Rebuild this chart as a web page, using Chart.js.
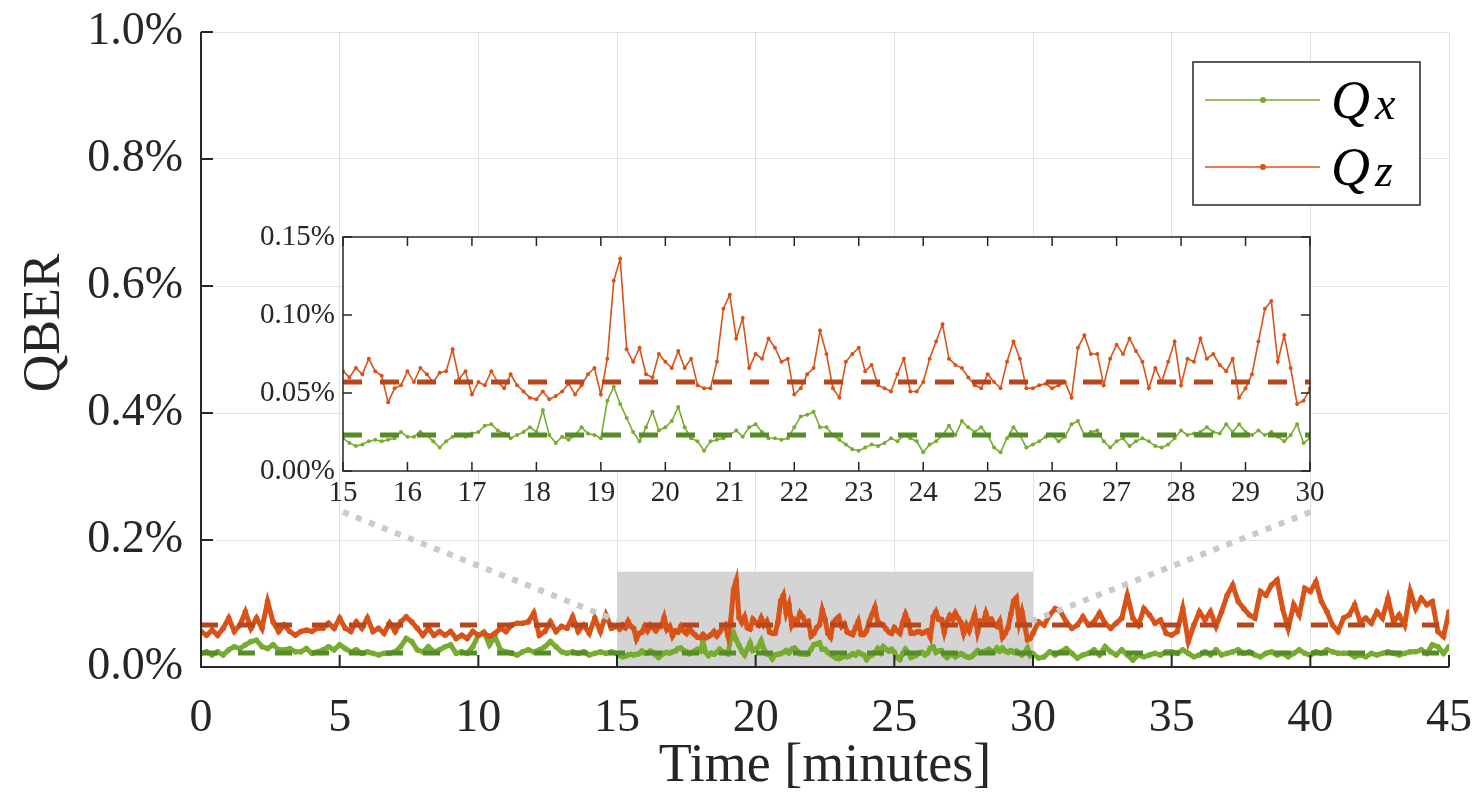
<!DOCTYPE html>
<html>
<head>
<meta charset="utf-8">
<title>QBER</title>
<script src="https://cdn.jsdelivr.net/npm/chart.js@4.4.1/dist/chart.umd.min.js"></script>
<style>
  body { margin: 0; background: #fff; }
  #wrap { position: relative; width: 1472px; height: 799px; }
  #mainChart { position: absolute; left: 0; top: 0; }
  #insetChart { position: absolute; left: 240px; top: 215px; }
</style>
</head>
<body>
<div id="wrap">
  <canvas id="mainChart" width="1472" height="799"></canvas>
  <canvas id="insetChart" width="1100" height="310"></canvas>
</div>
<script>
// --- Data (QBER in %) ---

// 0 .. 14.8 min, every 0.2 min
const qzFirst = [
  0.056, 0.050, 0.058, 0.050, 0.061, 0.077, 0.056, 0.066, 0.087, 0.061,
  0.077, 0.061, 0.103, 0.071, 0.056, 0.066, 0.056, 0.050, 0.056, 0.058,
  0.056, 0.061, 0.061, 0.069, 0.061, 0.077, 0.061, 0.056, 0.071, 0.061,
  0.077, 0.056, 0.061, 0.053, 0.069, 0.056, 0.071, 0.079, 0.071, 0.061,
  0.050, 0.061, 0.050, 0.056, 0.050, 0.056, 0.045, 0.050, 0.045, 0.056,
  0.050, 0.053, 0.048, 0.053, 0.061, 0.056, 0.066, 0.069, 0.069, 0.071,
  0.085, 0.050, 0.056, 0.071, 0.056, 0.064, 0.061, 0.079, 0.056, 0.066,
  0.053, 0.077, 0.056, 0.082, 0.061
];
const qxFirst = [
  0.0215, 0.024, 0.019, 0.024, 0.019, 0.027, 0.032, 0.029, 0.035, 0.040,
  0.042, 0.032, 0.029, 0.035, 0.027, 0.027, 0.029, 0.024, 0.024, 0.029,
  0.0215, 0.024, 0.027, 0.032, 0.027, 0.035, 0.029, 0.024, 0.027, 0.0215,
  0.024, 0.0215, 0.019, 0.0215, 0.0215, 0.024, 0.032, 0.045, 0.040, 0.027,
  0.024, 0.032, 0.024, 0.027, 0.032, 0.035, 0.0215, 0.024, 0.0215, 0.032,
  0.050, 0.055, 0.035, 0.048, 0.027, 0.024, 0.0215, 0.019, 0.024, 0.027,
  0.024, 0.027, 0.032, 0.040, 0.032, 0.024, 0.0215, 0.024, 0.0215, 0.024,
  0.019, 0.0215, 0.024, 0.0215, 0.024
];

// 15 .. 30 min, every 0.1 min (the zoomed window)
const qzZoom = [
  0.064, 0.060, 0.066, 0.062, 0.072, 0.064, 0.061, 0.044, 0.053, 0.055,
  0.064, 0.057, 0.066, 0.062, 0.057, 0.063, 0.064, 0.078, 0.059, 0.064,
  0.049, 0.057, 0.055, 0.064, 0.057, 0.053, 0.062, 0.055, 0.051, 0.047,
  0.046, 0.051, 0.046, 0.048, 0.051, 0.056, 0.049, 0.055, 0.062, 0.066,
  0.049, 0.072, 0.122, 0.136, 0.078, 0.070, 0.079, 0.062, 0.060, 0.075,
  0.070, 0.066, 0.077, 0.066, 0.072, 0.055, 0.053, 0.053, 0.070, 0.104,
  0.113, 0.085, 0.098, 0.066, 0.075, 0.072, 0.085, 0.079, 0.070, 0.072,
  0.049, 0.053, 0.062, 0.066, 0.090, 0.075, 0.053, 0.047, 0.070, 0.075,
  0.079, 0.064, 0.068, 0.055, 0.053, 0.051, 0.062, 0.072, 0.051, 0.051,
  0.057, 0.072, 0.083, 0.094, 0.072, 0.068, 0.066, 0.060, 0.055, 0.053,
  0.062, 0.057, 0.053, 0.070, 0.083, 0.072, 0.053, 0.053, 0.055, 0.056,
  0.053, 0.055, 0.057, 0.047, 0.079, 0.087, 0.075, 0.075, 0.055, 0.072,
  0.081, 0.075, 0.085, 0.077, 0.070, 0.053, 0.066, 0.057, 0.070, 0.083,
  0.055, 0.072, 0.070, 0.085, 0.072, 0.075, 0.068, 0.064, 0.072, 0.047,
  0.053, 0.062, 0.083, 0.104, 0.109, 0.070, 0.087, 0.066, 0.043, 0.045,
  0.053
];
const qxZoom = [
  0.021, 0.018, 0.016, 0.017, 0.019, 0.020, 0.019, 0.020, 0.021, 0.025,
  0.022, 0.022, 0.025, 0.023, 0.019, 0.015, 0.019, 0.022, 0.023, 0.022,
  0.024, 0.025, 0.029, 0.030, 0.026, 0.024, 0.021, 0.023, 0.025, 0.028,
  0.025, 0.039, 0.023, 0.018, 0.022, 0.020, 0.023, 0.028, 0.024, 0.023,
  0.021, 0.045, 0.054, 0.043, 0.034, 0.025, 0.019, 0.028, 0.038, 0.026,
  0.028, 0.032, 0.041, 0.028, 0.021, 0.019, 0.013, 0.019, 0.020, 0.021,
  0.023, 0.026, 0.022, 0.028, 0.030, 0.025, 0.021, 0.021, 0.020, 0.021,
  0.028, 0.035, 0.036, 0.038, 0.028, 0.028, 0.023, 0.020, 0.017, 0.014,
  0.013, 0.015, 0.017, 0.016, 0.018, 0.021, 0.019, 0.023, 0.021, 0.019,
  0.012, 0.017, 0.019, 0.023, 0.029, 0.023, 0.032, 0.028, 0.025, 0.028,
  0.023, 0.015, 0.012, 0.021, 0.028, 0.023, 0.015, 0.017, 0.019, 0.022,
  0.023, 0.019, 0.022, 0.030, 0.032, 0.023, 0.025, 0.026, 0.019, 0.015,
  0.019, 0.021, 0.016, 0.019, 0.021, 0.019, 0.016, 0.015, 0.017, 0.021,
  0.026, 0.023, 0.024, 0.025, 0.028, 0.025, 0.024, 0.030, 0.025, 0.030,
  0.025, 0.023, 0.026, 0.023, 0.025, 0.022, 0.019, 0.023, 0.030, 0.018,
  0.021
];

// 30.2 .. 45 min, every 0.2 min
const qzLast = [
  0.071, 0.066, 0.082, 0.092, 0.087, 0.071, 0.061, 0.066, 0.079, 0.066,
  0.071, 0.085, 0.069, 0.061, 0.069, 0.077, 0.113, 0.077, 0.066, 0.092,
  0.082, 0.069, 0.074, 0.053, 0.050, 0.056, 0.092, 0.040, 0.066, 0.087,
  0.074, 0.087, 0.064, 0.087, 0.113, 0.129, 0.103, 0.092, 0.082, 0.077,
  0.119, 0.113, 0.129, 0.137, 0.092, 0.061, 0.098, 0.082, 0.124, 0.119,
  0.134, 0.103, 0.087, 0.066, 0.056, 0.077, 0.082, 0.098, 0.071, 0.077,
  0.069, 0.087, 0.077, 0.108, 0.071, 0.082, 0.066, 0.119, 0.092, 0.108,
  0.098, 0.103, 0.056, 0.048, 0.087
];
const qxLast = [
  0.014, 0.016, 0.024, 0.019, 0.024, 0.029, 0.0215, 0.014, 0.019, 0.0215,
  0.027, 0.019, 0.032, 0.024, 0.019, 0.027, 0.019, 0.011, 0.019, 0.016,
  0.019, 0.0215, 0.019, 0.024, 0.024, 0.0215, 0.027, 0.0215, 0.016, 0.019,
  0.024, 0.019, 0.027, 0.019, 0.0215, 0.024, 0.027, 0.0215, 0.024, 0.019,
  0.016, 0.0215, 0.024, 0.019, 0.0215, 0.016, 0.0215, 0.027, 0.0215, 0.019,
  0.024, 0.0215, 0.027, 0.024, 0.0215, 0.0215, 0.0215, 0.016, 0.019, 0.016,
  0.0215, 0.019, 0.0215, 0.024, 0.0215, 0.019, 0.0215, 0.024, 0.024, 0.027,
  0.0215, 0.035, 0.032, 0.0215, 0.032
];

// mean values (dashed lines)
const qzMeanAll = 0.066;
const qxMeanAll = 0.022;
const qzMeanZoom = 0.057;
const qxMeanZoom = 0.023;

// zoom window and connector lines (main chart data units)
const zoomWindow = { from: 15, to: 30, top: 0.15 };
const connectLeft = [[5.12, 0.244], [15, 0.073]];
const connectRight = [[40, 0.244], [30, 0.073]];

const mainXTicks = { min: 0, max: 45, step: 5 };
const mainYTicks = { min: 0, max: 1, step: 0.2 };
const zoomYTicks = { min: 0, max: 0.15, step: 0.05 };

// --- Helpers ---
function toPoints(values, start, step) {
  return values.map((v, i) => ({ x: +(start + i * step).toFixed(2), y: v }));
}
function flatLine(y, x0, x1) {
  return [{ x: x0, y: y }, { x: x1, y: y }];
}
function pairs(arr) {
  return arr.map(p => ({ x: p[0], y: p[1] }));
}

const qzAll = toPoints(qzFirst, 0, 0.2).concat(toPoints(qzZoom, 15, 0.1), toPoints(qzLast, 30.2, 0.2));
const qxAll = toPoints(qxFirst, 0, 0.2).concat(toPoints(qxZoom, 15, 0.1), toPoints(qxLast, 30.2, 0.2));

const SERIF = "'Liberation Serif', 'Times New Roman', serif";
const INK = '#262626';
const GREEN = '#77AC30';
const ORANGE = '#D95319';
const GREEN_DARK = '#558C28';
const ORANGE_DARK = '#B8461C';

// x scale: fixed height, no extra side padding
function fixX(h) {
  return s => { s.height = h; s.paddingLeft = 0; s.paddingRight = 0; };
}
// y scale: fixed width, no extra top/bottom padding
function fixY(w) {
  return s => { s.width = w; s.paddingTop = 0; s.paddingBottom = 0; };
}

// --- Main chart decorations: inward ticks, axis lines, y title, legend ---
const mainDecor = {
  id: 'mainDecor',
  afterDatasetsDraw(chart) {
    const { ctx, chartArea: a, scales: { x, y } } = chart;
    ctx.save();
    ctx.strokeStyle = INK;
    ctx.lineWidth = 2;
    ctx.beginPath();
    ctx.moveTo(a.left, a.top);
    ctx.lineTo(a.left, a.bottom);
    ctx.lineTo(a.right, a.bottom);
    x.ticks.forEach(t => {
      const px = x.getPixelForValue(t.value);
      ctx.moveTo(px, a.bottom);
      ctx.lineTo(px, a.bottom - 12);
    });
    y.ticks.forEach(t => {
      const py = y.getPixelForValue(t.value);
      ctx.moveTo(a.left, py);
      ctx.lineTo(a.left + 12, py);
    });
    ctx.stroke();
    ctx.restore();
  },
  afterDraw(chart) {
    const { ctx, chartArea: a } = chart;
    ctx.save();
    // y axis title
    ctx.fillStyle = INK;
    ctx.font = '52px ' + SERIF;
    ctx.textAlign = 'center';
    ctx.textBaseline = 'middle';
    ctx.translate(45, 323);
    ctx.rotate(-Math.PI / 2);
    ctx.fillText('QBER', 0, 0);
    ctx.restore();

    // legend
    const bx = a.right - 256, by = a.top + 30, bw = 227, bh = 143;
    ctx.save();
    ctx.fillStyle = '#fff';
    ctx.fillRect(bx, by, bw, bh);
    ctx.strokeStyle = INK;
    ctx.lineWidth = 1.5;
    ctx.strokeRect(bx, by, bw, bh);
    const items = [
      { ds: chart.data.datasets[1], sub: 'x', y: by + 38 },
      { ds: chart.data.datasets[2], sub: 'z', y: by + 105 }
    ];
    items.forEach(it => {
      ctx.strokeStyle = it.ds.borderColor;
      ctx.lineWidth = 1.5;
      ctx.beginPath();
      ctx.moveTo(bx + 12, it.y);
      ctx.lineTo(bx + 127, it.y);
      ctx.stroke();
      ctx.fillStyle = it.ds.borderColor;
      ctx.beginPath();
      ctx.arc(bx + 70, it.y, 3, 0, Math.PI * 2);
      ctx.fill();
      ctx.fillStyle = '#000';
      ctx.font = 'italic 54px ' + SERIF;
      ctx.textAlign = 'left';
      ctx.textBaseline = 'middle';
      ctx.fillText('Q', bx + 138, it.y + 4);
      ctx.font = 'italic 46px ' + SERIF;
      ctx.fillText(it.sub, bx + 182, it.y + 7);
    });
    ctx.restore();
  }
};

new Chart(document.getElementById('mainChart').getContext('2d'), {
  type: 'line',
  data: {
    datasets: [
      {
        label: 'zoom window',
        data: flatLine(zoomWindow.top, zoomWindow.from, zoomWindow.to),
        fill: 'origin',
        backgroundColor: '#D4D4D4',
        borderWidth: 0,
        pointRadius: 0,
        order: 8
      },
      {
        label: 'Qx',
        data: qxAll,
        borderColor: GREEN,
        backgroundColor: GREEN,
        borderWidth: 5,
        pointRadius: 2.8,
        pointBorderWidth: 0,
        order: 7
      },
      {
        label: 'Qz',
        data: qzAll,
        borderColor: ORANGE,
        backgroundColor: ORANGE,
        borderWidth: 5,
        pointRadius: 2.8,
        pointBorderWidth: 0,
        order: 6
      },
      {
        label: 'Qx mean',
        data: flatLine(qxMeanAll, 0, 45),
        borderColor: GREEN_DARK,
        borderWidth: 5,
        borderDash: [17, 20],
        pointRadius: 0,
        order: 5
      },
      {
        label: 'Qz mean',
        data: flatLine(qzMeanAll, 0, 45),
        borderColor: ORANGE_DARK,
        borderWidth: 5,
        borderDash: [17, 20],
        pointRadius: 0,
        order: 4
      },
      {
        label: 'link left',
        data: pairs(connectLeft),
        borderColor: '#CACACA',
        borderWidth: 6,
        borderDash: [6, 8],
        pointRadius: 0,
        order: 2
      },
      {
        label: 'link right',
        data: pairs(connectRight),
        borderColor: '#CACACA',
        borderWidth: 6,
        borderDash: [6, 8],
        pointRadius: 0,
        order: 1
      }
    ]
  },
  options: {
    responsive: false,
    animation: false,
    layout: { padding: { left: 0, right: 23, top: 32, bottom: 0 } },
    plugins: { legend: { display: false }, tooltip: { enabled: false } },
    elements: { line: { tension: 0 } },
    scales: {
      x: {
        type: 'linear',
        min: mainXTicks.min,
        max: mainXTicks.max,
        ticks: {
          stepSize: mainXTicks.step,
          color: INK,
          font: { family: SERIF, size: 46 },
          padding: 24,
          maxRotation: 0
        },
        grid: { color: '#E2E2E2', lineWidth: 1, drawTicks: false },
        border: { display: false },
        title: {
          display: true,
          text: 'Time [minutes]',
          color: INK,
          font: { family: SERIF, size: 54 },
          padding: 0
        },
        afterFit: fixX(132)
      },
      y: {
        type: 'linear',
        min: mainYTicks.min,
        max: mainYTicks.max,
        ticks: {
          stepSize: mainYTicks.step,
          color: INK,
          font: { family: SERIF, size: 46 },
          padding: 18,
          callback: v => v.toFixed(1) + '%'
        },
        grid: { color: '#E2E2E2', lineWidth: 1, drawTicks: false },
        border: { display: false },
        afterFit: fixY(201)
      }
    }
  },
  plugins: [mainDecor]
});

// --- Inset chart: white plot area, full box, inward ticks on all sides ---
const insetDecor = {
  id: 'insetDecor',
  beforeDatasetsDraw(chart) {
    const { ctx, chartArea: a } = chart;
    ctx.save();
    ctx.fillStyle = '#fff';
    ctx.fillRect(a.left, a.top, a.right - a.left, a.bottom - a.top);
    ctx.restore();
  },
  afterDatasetsDraw(chart) {
    const { ctx, chartArea: a, scales: { x, y } } = chart;
    ctx.save();
    ctx.strokeStyle = INK;
    ctx.lineWidth = 1.5;
    ctx.strokeRect(a.left, a.top, a.right - a.left, a.bottom - a.top);
    ctx.beginPath();
    x.ticks.forEach(t => {
      const px = x.getPixelForValue(t.value);
      ctx.moveTo(px, a.bottom); ctx.lineTo(px, a.bottom - 9);
      ctx.moveTo(px, a.top); ctx.lineTo(px, a.top + 9);
    });
    y.ticks.forEach(t => {
      const py = y.getPixelForValue(t.value);
      ctx.moveTo(a.left, py); ctx.lineTo(a.left + 9, py);
      ctx.moveTo(a.right, py); ctx.lineTo(a.right - 9, py);
    });
    ctx.stroke();
    ctx.restore();
  }
};

new Chart(document.getElementById('insetChart').getContext('2d'), {
  type: 'line',
  data: {
    datasets: [
      {
        label: 'Qx',
        data: toPoints(qxZoom, 15, 0.1),
        borderColor: GREEN,
        backgroundColor: GREEN,
        borderWidth: 1.6,
        pointRadius: 2,
        pointBorderWidth: 0,
        order: 4
      },
      {
        label: 'Qz',
        data: toPoints(qzZoom, 15, 0.1),
        borderColor: ORANGE,
        backgroundColor: ORANGE,
        borderWidth: 1.6,
        pointRadius: 2,
        pointBorderWidth: 0,
        order: 3
      },
      {
        label: 'Qx mean',
        data: flatLine(qxMeanZoom, 15, 30),
        borderColor: GREEN_DARK,
        borderWidth: 5,
        borderDash: [19, 18],
        pointRadius: 0,
        order: 2
      },
      {
        label: 'Qz mean',
        data: flatLine(qzMeanZoom, 15, 30),
        borderColor: ORANGE_DARK,
        borderWidth: 5,
        borderDash: [19, 18],
        pointRadius: 0,
        order: 1
      }
    ]
  },
  options: {
    responsive: false,
    animation: false,
    layout: { padding: { left: 0, right: 30, top: 22, bottom: 0 } },
    plugins: { legend: { display: false }, tooltip: { enabled: false } },
    elements: { line: { tension: 0 } },
    scales: {
      x: {
        type: 'linear',
        min: zoomWindow.from,
        max: zoomWindow.to,
        ticks: {
          stepSize: 1,
          color: INK,
          font: { family: SERIF, size: 29 },
          padding: 5,
          maxRotation: 0,
          autoSkip: false
        },
        grid: { display: false, drawTicks: false },
        border: { display: false },
        afterFit: fixX(54)
      },
      y: {
        type: 'linear',
        min: zoomYTicks.min,
        max: zoomYTicks.max,
        ticks: {
          stepSize: zoomYTicks.step,
          color: INK,
          font: { family: SERIF, size: 29 },
          padding: 8,
          callback: v => v.toFixed(2) + '%'
        },
        grid: { display: false, drawTicks: false },
        border: { display: false },
        afterFit: fixY(103)
      }
    }
  },
  plugins: [insetDecor]
});
</script>
</body>
</html>
